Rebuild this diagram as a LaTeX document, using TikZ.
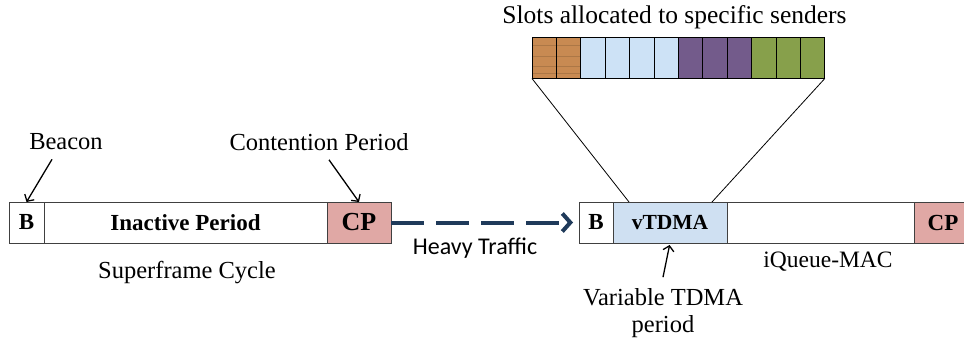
\documentclass[tikz,border=0pt]{standalone}
\usepackage{fontspec}
\setmainfont{Liberation Serif}
\newfontfamily\calibfont{Carlito}
\usetikzlibrary{positioning,arrows.meta}

\definecolor{cpred}{HTML}{E0A8A5}
\definecolor{tdmablue}{HTML}{CFE0F2}
\definecolor{woodbrown}{HTML}{C88A52}
\definecolor{icyblue}{HTML}{CDE2F6}
\definecolor{slotpurple}{HTML}{735B8B}
\definecolor{slotgreen}{HTML}{87A04B}
\definecolor{navyline}{HTML}{1F3A5A}

\begin{document}
\begin{tikzpicture}[x=1pt, y=-1pt,
  part/.style={draw=black!75, line width=0.8pt, rectangle, minimum height=41pt, inner sep=0pt, outer sep=0pt, font=\fontsize{23}{26}\selectfont\bfseries},
  slot/.style={draw=black, line width=0.8pt, rectangle, minimum height=41pt, minimum width=24.4pt, inner sep=0pt, outer sep=0pt},
  woodslot/.style={slot, fill=woodbrown, path picture={
      \foreach \g in {0.2,0.45,0.7,0.88}
        \draw[woodbrown!70!black, opacity=0.45, line width=0.7pt]
          ([yshift=-\g*41pt]path picture bounding box.north west) -- ([yshift=-\g*41pt]path picture bounding box.north east);}},
  lbl/.style={font=\fontsize{24.5}{27}\selectfont, inner sep=0pt},
  pointer/.style={-{Straight Barb[length=5pt,width=11pt]}, line width=1.3pt}]

\useasboundingbox (0,0) rectangle (964,343);

% superframe cycle
\node[part, anchor=west, minimum width=35pt] (b1) at (9,222.5) {\fontsize{23}{25}\selectfont B};
\node[part, right=0pt of b1, minimum width=283pt] (inact) {Inactive Period};
\node[part, right=0pt of inact, minimum width=64pt, fill=cpred] (cp1) {\fontsize{26}{28}\selectfont CP};

% iQueue-MAC cycle
\node[part, anchor=west, minimum width=34pt] (b2) at (579,222.5) {\fontsize{23}{25}\selectfont B};
\node[part, right=0pt of b2, minimum width=114pt, fill=tdmablue] (vtdma) {\fontsize{21.5}{24}\selectfont vTDMA};
\node[part, right=0pt of vtdma, minimum width=187pt] (idle) {};
\node[part, right=0pt of idle, minimum width=58pt, fill=cpred] (cp2) {CP};

% slots
\node[woodslot, anchor=west] (s1) at (532,58) {};
\node[woodslot, right=0pt of s1] (s2) {};
\foreach \i/\c in {3/icyblue, 4/icyblue, 5/icyblue, 6/icyblue, 7/slotpurple, 8/slotpurple, 9/slotpurple, 10/slotgreen, 11/slotgreen, 12/slotgreen} {
  \pgfmathtruncatemacro{\prev}{\i-1}
  \node[slot, right=0pt of s\prev, fill=\c] (s\i) {};
}
\node[lbl, font=\fontsize{25.5}{28}\selectfont] (slotstitle) at (674.5,17) {Slots allocated to specific senders};

\coordinate (zl) at (629,202);
\coordinate (zr) at (712,202);
\draw[line width=0.8pt] (s1.south west) -- (zl);
\draw[line width=0.8pt] (s12.south east) -- (zr);

% labels
\node[lbl] (beacon) at (66,142) {Beacon};
\node[lbl] (contention) at (319,142) {Contention Period};
\node[lbl] (superframe) at (187,273) {Superframe Cycle};
\node[font=\fontsize{23.5}{26}\selectfont, inner sep=0pt] (iqueue) at (828,262) {iQueue-MAC};
\node[lbl, align=center, font=\fontsize{24.5}{27}\selectfont] (vartdma) at (663,313) {Variable TDMA\\period};
\node[font=\calibfont\fontsize{24}{26}\selectfont, inner sep=0pt] (heavy) at (475,248) {Heavy Traffic};

\draw[pointer] ([shift={(-14,9)}]beacon.south) -- (b1.north);
\draw[pointer] ([shift={(10,9)}]contention.south) -- (cp1.north);
\draw[pointer, shorten >=2pt] ([shift={(0,-11)}]vartdma.north) -- (vtdma.south);

\draw[navyline, line width=4pt, dash pattern=on 33pt off 12pt, -{Straight Barb[length=8pt,width=18pt]}, shorten >=6pt] (cp1.east) -- (b2.west);

\end{tikzpicture}
\end{document}
